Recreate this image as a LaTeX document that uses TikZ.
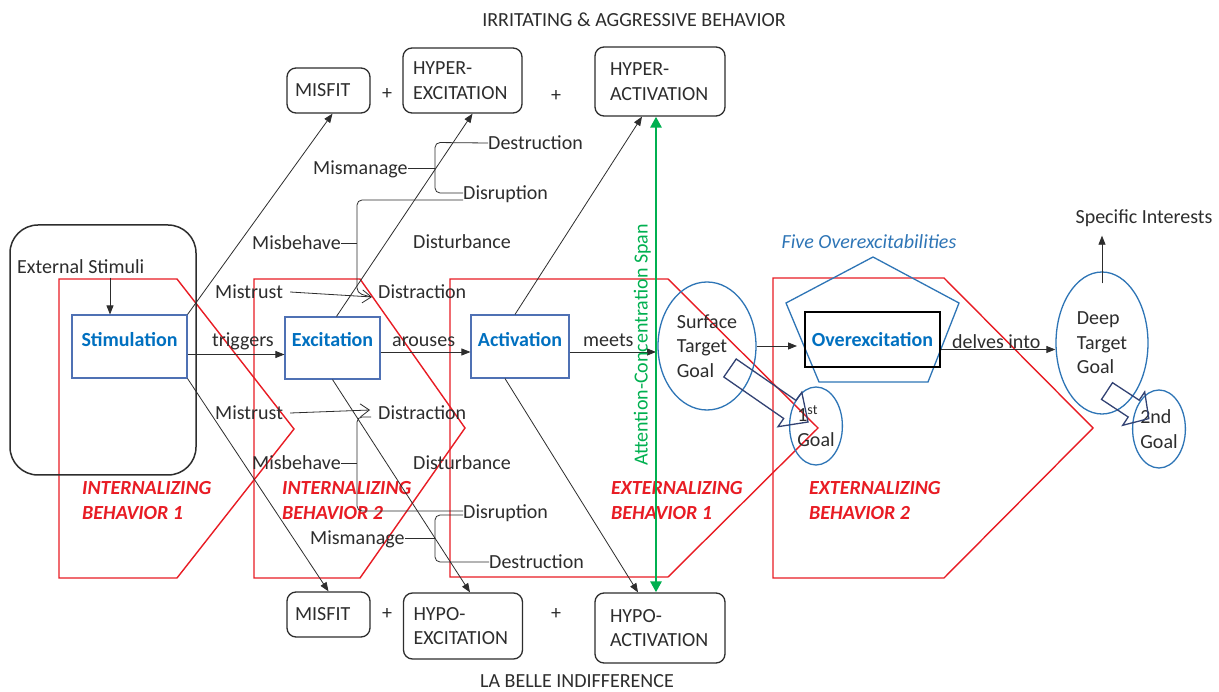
\documentclass[tikz,border=0pt]{standalone}
\usepackage{fontspec}
\setmainfont{Carlito}
\usetikzlibrary{arrows.meta,shapes.geometric,calc}
\definecolor{ink}{RGB}{45,45,45}
\definecolor{boxblue}{RGB}{79,113,180}
\definecolor{txtblue}{RGB}{0,112,192}
\definecolor{ellblue}{RGB}{46,117,182}
\definecolor{redc}{RGB}{232,28,36}
\definecolor{grn}{RGB}{0,176,80}
\definecolor{navy}{RGB}{50,66,115}
\tikzset{
  txt/.style={inner sep=0pt, text=ink, text height=13pt, text depth=0pt},
  rbox/.style={draw=ink, line width=1.3pt, rounded corners=9pt, align=left, inner ysep=0pt, text=ink},
  bbox/.style={draw=boxblue, line width=1.1pt, text=txtblue, font=\fontsize{20}{24}\selectfont\bfseries, inner sep=0pt},
  goal/.style={draw=ellblue, line width=1.3pt, ellipse, inner sep=0pt, align=left, text=ink},
  arr/.style={draw=ink, line width=0.8pt, -{Triangle[length=9pt,width=7pt]}},
  barb/.style={draw=ink, line width=0.8pt, -{Straight Barb[length=9pt,width=13pt]}},
  brc/.style={draw=ink, line width=0.8pt, rounded corners=5pt},
  redlbl/.style={text=redc, font=\fontsize{20}{25}\selectfont\bfseries\itshape, align=left, inner sep=0pt},
  redpoly/.style={draw=redc, line width=1.4pt},
  blockarr/.style={draw=navy, line width=1.3pt, line join=miter},
  grnarr/.style={draw=grn, line width=2.8pt, {Triangle[length=11pt,width=11pt]}-{Triangle[length=11pt,width=11pt]}},
}
\begin{document}
\begin{tikzpicture}[x=1pt,y=-1pt,font=\fontsize{20}{24.5}\selectfont]
\useasboundingbox (0,0) rectangle (1219,692);
\fill[white] (0,0) rectangle (1219,692);

% red behaviour shapes
\draw[redpoly] (59,279) -- (177,279) -- (294,429) -- (177,578) -- (59,578) -- cycle;
\draw[redpoly] (254,279) -- (360,279) -- (465,428) -- (360,578) -- (254,578) -- cycle;
\draw[redpoly] (450,279) -- (668,279) -- (818,428) -- (668,577) -- (450,577) -- cycle;
\draw[redpoly] (773,278) -- (944,278) -- (1093,428) -- (944,578) -- (773,578) -- cycle;

% headers
\node[txt] (irr) at (634,20) {IRRITATING \& AGGRESSIVE BEHAVIOR};
\node[txt] (belle) at (577,681) {LA BELLE INDIFFERENCE};

% top boxes
\node[rbox, text width=67pt, inner xsep=8pt, minimum height=45pt] (misT) at (328.5,90.5) {MISFIT};
\node[txt] (plusT1) at (387,93) {+};
\node[rbox, text width=99pt, inner xsep=10pt, minimum height=65pt] (hexc) at (462.5,80.5) {HYPER-\\EXCITATION};
\node[txt] (plusT2) at (556,95) {+};
\node[rbox, text width=100pt, inner xsep=15pt, minimum height=69pt] (hact) at (660,81.5) {HYPER-\\ACTIVATION};

% bottom boxes
\node[rbox, text width=67pt, inner xsep=8pt, minimum height=45pt] (misB) at (328.5,614.5) {MISFIT};
\node[txt] (plusB1) at (387,613) {+};
\node[rbox, text width=99pt, inner xsep=10pt, minimum height=66pt] (lexc) at (463,626) {HYPO-\\EXCITATION};
\node[txt] (plusB2) at (556,613) {+};
\node[rbox, text width=100pt, inner xsep=15pt, minimum height=70pt] (lact) at (660,628) {HYPO-\\ACTIVATION};

% external stimuli
\node[draw=ink, line width=1.5pt, rounded corners=28pt, minimum width=186pt, minimum height=250pt, inner sep=0pt] (extbox) at (103,350) {};
\node[txt, anchor=west] (extlbl) at (17,267) {External Stimuli};

% main chain boxes
\node[bbox, minimum width=115pt, text height=32pt, text depth=31pt] (stim) at (129.5,346.5) {Stimulation};
\node[bbox, minimum width=95pt, text height=30pt, text depth=32pt] (exc) at (332.5,348) {Excitation};
\node[bbox, minimum width=98pt, text height=32pt, text depth=31pt] (act) at (520,346.5) {Activation};

\node[txt, anchor=west] (trig) at (212,340) {triggers};
\node[txt, anchor=west] (arou) at (392,340) {arouses};
\node[txt, anchor=west] (meet) at (583,340) {meets};
\node[txt, anchor=west] (delv) at (952,342) {delves into};

% goals
\node[goal, minimum width=98pt, minimum height=128pt] (surf) at (707,346) {Surface\\Target\\Goal};
\node[goal, minimum width=92pt, minimum height=142pt] (deep) at (1102,343) {Deep\\Target\\Goal};
\node[goal, minimum width=52pt, minimum height=78pt] (g1) at (816,426) {1\textsuperscript{st}\\Goal};
\node[goal, minimum width=52pt, minimum height=78pt] (g2) at (1159,429) {2nd\\Goal};

% overexcitation
\draw[draw=ellblue, line width=1.3pt] (873,257) -- (959,303) -- (928,382) -- (819,382) -- (786,303) -- cycle;
\node[draw=black, line width=2pt, minimum width=135pt, minimum height=55pt, inner sep=0pt, text=txtblue, font=\fontsize{20}{24}\selectfont\bfseries] (over) at (872.5,339.5) {Overexcitation};
\node[txt, text=ellblue, font=\fontsize{20}{24}\selectfont\itshape] (five) at (869,242) {Five Overexcitabilities};
\node[txt] (spec) at (1144,217) {Specific Interests};

% red labels
\node[redlbl, anchor=west] (ib1) at (82,500.5) {INTERNALIZING\\BEHAVIOR 1};
\node[redlbl, anchor=west] (ib2) at (282,500.5) {INTERNALIZING\\BEHAVIOR 2};
\node[redlbl, anchor=west] (eb1) at (611,500.5) {EXTERNALIZING\\BEHAVIOR 1};
\node[redlbl, anchor=west] (eb2) at (809,500.5) {EXTERNALIZING\\BEHAVIOR 2};

% fishbone texts upper
\node[txt, anchor=west] (mismU) at (313,168) {Mismanage};
\node[txt, anchor=west] (destU) at (488,143) {Destruction};
\node[txt, anchor=west] (disrU) at (463,193) {Disruption};
\node[txt, anchor=west] (misbU) at (252,243) {Misbehave};
\node[txt, anchor=west] (distbU) at (413,242) {Disturbance};
\node[txt, anchor=west] (mistU) at (215,292) {Mistrust};
\node[txt, anchor=west] (distU) at (378,292) {Distraction};
% fishbone texts lower
\node[txt, anchor=west] (mistL) at (215,413) {Mistrust};
\node[txt, anchor=west] (distL) at (378,413) {Distraction};
\node[txt, anchor=west] (misbL) at (252,463) {Misbehave};
\node[txt, anchor=west] (distbL) at (413,463) {Disturbance};
\node[txt, anchor=west] (disrL) at (463,512) {Disruption};
\node[txt, anchor=west] (mismL) at (310,538) {Mismanage};
\node[txt, anchor=west] (destL) at (489,562) {Destruction};

% braces
\draw[brc] ([yshift=-7pt]disrU.west) -- (357,200) -- (357,293) -- (371,297);
\draw[brc] (misbU.east) -- (357,243);
\draw[brc] (destU.west) -- (435,142.5) -- (435,193) -- (disrU.west);
\draw[brc] (mismU.east) -- (435,168);
\draw[brc] (371,417) -- (357,417) -- (357,511) -- ([yshift=1pt]disrL.west);
\draw[brc] (misbL.east) -- (357,463);
\draw[brc] ([yshift=-3pt]disrL.west) -- (435,515) -- (435,562) -- (destL.west);
\draw[brc] (mismL.east) -- (435,538);

% mistrust arrows
\draw[barb] ([xshift=7pt]mistU.east) -- ([xshift=-6pt,yshift=-5pt]distU.west);
\draw[barb] ([xshift=7pt]mistL.east) -- ([xshift=-8pt,yshift=3pt]distL.west);

% main arrows
\coordinate (gx) at (656,0);
\draw[arr] ([xshift=-19.5pt]stim.north |- extlbl.south) ++(0,4) -- ([xshift=-19.5pt]stim.north);
\draw[arr] ([yshift=-8pt]stim.east) -- ([yshift=-8pt]stim.east -| exc.west);
\draw[arr] ([yshift=-4pt]exc.east) -- ([yshift=-4pt]exc.east -| act.west);
\draw[arr] ([yshift=-5.5pt]act.east) -- ([yshift=-5.5pt]act.east -| gx);
\draw[arr] (surf.east) -- ([xshift=-7pt]surf.east -| over.west);
\draw[arr] ([yshift=-10pt]over.east) -- ([yshift=-10pt]over.east -| deep.west);
\draw[arr] ([yshift=-12pt]deep.north) -- ([yshift=-12pt]deep.north |- spec.south);

% diagonal arrows
\draw[arr] (stim.north east) -- ([xshift=4pt]misT.south);
\draw[arr] ([xshift=4pt]exc.north) -- ([xshift=10pt]hexc.south);
\draw[arr] ([xshift=-5pt]act.north) -- ([xshift=-18pt]hact.south);
\draw[arr] (stim.south east) -- (misB.north);
\draw[arr] (exc.south) -- ([xshift=7pt]lexc.north);
\draw[arr] ([xshift=-15pt]act.south) -- ([xshift=-22pt]lact.north);

% attention span
\draw[grnarr] (hact.south -| gx) -- (lact.north -| gx);
\node[txt, rotate=90, text=grn] (att) at (641,345) {Attention-Concentration Span};

% block arrows
\draw[blockarr] (723.8,377.0) -- (736.2,359.0) -- (796.1,400.5) -- (801.8,392.3) -- (808,422) -- (778.0,426.7) -- (783.7,418.5) -- cycle;
\draw[blockarr] (1101.5,399.4) -- (1112.5,382.7) -- (1139.2,400.2) -- (1144.7,391.9) -- (1148.8,418.6) -- (1122.7,425.3) -- (1128.2,417.0) -- cycle;
\end{tikzpicture}
\end{document}
